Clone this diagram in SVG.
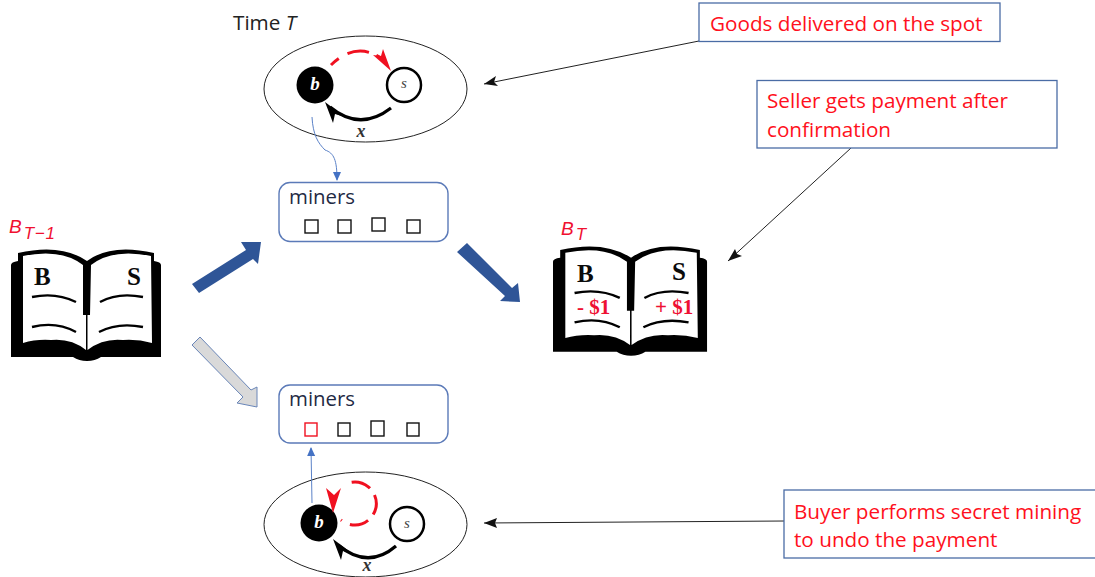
<svg xmlns="http://www.w3.org/2000/svg" width="1095" height="577" viewBox="0 0 1095 577">
<style>
.ui{font-family:"Open Sans","Noto Sans",sans-serif}
.lbl{font-size:20.700px;fill:#ff1020}
.mn{font-size:20.400px;fill:#1f2a44}
.ser{font-family:"Liberation Serif",serif}
.bk{font-size:25px;font-weight:bold;fill:#0b0b0b}
.amt{font-size:21px;font-weight:bold;fill:#ee1133}
.box{fill:#fff;stroke:#4a6ca5;stroke-width:1.300}
.mbox{fill:#fff;stroke:#5b7ab8;stroke-width:1.400}
.el{fill:none;stroke:#222;stroke-width:1}
.sq{fill:#fff;stroke:#111;stroke-width:1.400}
.ln{fill:none;stroke:#222;stroke-width:1}
.bl{fill:none;stroke:#5b82c8;stroke-width:1;marker-end:url(#ab)}
.cb{fill:none;stroke:#000;stroke-width:3.200}
.cr{fill:none;stroke:#f01020;stroke-width:3}
.hd{fill:#000}.hr{fill:#f01020}
.sub{font-family:"Liberation Sans",sans-serif;font-style:italic;fill:#f01030}
</style>
<defs>
<marker id="ab" markerWidth="9" markerHeight="9" refX="8" refY="4" orient="auto" markerUnits="userSpaceOnUse" viewBox="0 0 9 8"><path d="M0,0L9,4L0,8z" fill="#4472c4"/></marker>
<g id="book">
<path fill="#000" d="M0,17Q0,14 7,13L7,5Q50,-5 76,13Q100,-5 143,5L143,13Q150,14 150,17L150,109L90,109Q84,113 76,113Q68,113 62,109L0,109z"/>
<path fill="#fff" d="M12,8Q50,0 72,17L72,67L75,67L75,102Q60,90 40,92Q25,91 12,95z"/>
<path fill="#fff" d="M140,8Q102,0 80,17L79,67L76.500,67L76.500,102Q92,90 112,92Q127,91 141,95z"/>
<g fill="none" stroke="#000" stroke-width="2.400">
<path d="M21,49Q45,44 65,54M89,54Q107,44 132,49M21,79Q45,73 65,84M88,84Q107,74 132,79"/>
</g>
</g>
</defs>
<g id="ellipse-top">
<ellipse class="el" cx="365.500" cy="89" rx="101.500" ry="53"/>
<circle cx="315" cy="85" r="18.500" fill="#000"/>
<circle cx="404" cy="85" r="17" fill="#fff" stroke="#000" stroke-width="2.500"/>
<path class="cr" d="M331,65Q357,40 384,60" stroke-dasharray="10 10 22 8 30"/>
<path class="hr" d="M391,71L373,55L381,56L383,49z"/>
<path class="cb" d="M391,108Q360,132 330,107"/>
<path class="hd" d="M325,102L345,117L335,114L333,123z"/>
<text class="ser" x="315" y="90" font-size="19" font-weight="bold" font-style="italic" fill="#fff" text-anchor="middle">b</text>
<text class="ser" x="404" y="88" font-size="15" font-style="italic" fill="#444" text-anchor="middle">s</text>
<text class="ser" x="361" y="137" font-size="18" font-weight="bold" font-style="italic" fill="#333" text-anchor="middle">x</text>
</g>
<g id="ellipse-bottom">
<ellipse class="el" cx="365.500" cy="524.500" rx="101.500" ry="52.500"/>
<circle cx="319" cy="523" r="18.500" fill="#000"/>
<circle cx="407" cy="524" r="17" fill="#fff" stroke="#000" stroke-width="2.500"/>
<path class="cr" d="M341,520A21.500,21.500 0 1 0 338,490" stroke-dasharray="1 9 19 8 20 8 20 40"/>
<path class="hr" d="M333,513L326,488L334,495L341,488z"/>
<path class="cb" d="M396,546Q368,570 338,545"/>
<path class="hd" d="M333,539L353,554L343,551L341,560z"/>
<text class="ser" x="319" y="528" font-size="19" font-weight="bold" font-style="italic" fill="#fff" text-anchor="middle">b</text>
<text class="ser" x="407" y="528" font-size="15" font-style="italic" fill="#444" text-anchor="middle">s</text>
<text class="ser" x="367" y="571" font-size="18" font-weight="bold" font-style="italic" fill="#333" text-anchor="middle">x</text>
</g>
<g id="connectors">
<path class="ln" d="M699,41L484,84"/>
<path d="M484,84L496,76L494,82L498,86z" fill="#111"/>
<path class="ln" d="M851,148L728,261"/>
<path d="M728,261L735,249L737,254L742,256z" fill="#111"/>
<path class="ln" d="M785,521L484,523"/>
<path d="M484,523L497,518L495,523L497,528z" fill="#111"/>
<path class="bl" d="M312,117C313,135 318,143 325,150C334,153 337,160 337,180"/>
<path class="bl" d="M312,503L311,448"/>
<polygon fill="#2f5597" points="192,284 246,250 241,242 261,242 258,264 253,259 199,293"/>
<polygon fill="#2f5597" points="457,252 467,243 512,288 518,283 520,302 500,301 505,296"/>
<polygon fill="#d9d9d9" stroke="#6a86b8" points="192,345 200,337 251,390 257,387 257,407 237,403 243,397"/>
</g>
<g id="time"><text class="ui" x="233" y="30" font-size="20.700" fill="#222">Time <tspan font-style="italic">T</tspan></text></g>
<g id="book-prev">
<text class="sub" x="9" y="233" font-size="19">B<tspan font-size="17" dx="2" dy="6" letter-spacing="0.700">T−1</tspan></text>
<use href="#book" transform="translate(11,248)"/>
<text class="ser bk" x="34" y="285">B</text>
<text class="ser bk" x="127" y="285">S</text>
</g>
<g id="book-next">
<text class="sub" x="561" y="235" font-size="19">B<tspan font-size="17" dx="2" dy="5">T</tspan></text>
<use href="#book" transform="translate(553,245) scale(1.027,0.98)"/>
<text class="ser bk" x="577" y="282">B</text>
<text class="ser bk" x="672" y="280">S</text>
<text class="ser amt" x="577" y="314">- $1</text>
<text class="ser amt" x="655" y="314">+ $1</text>
</g>
<g id="miners-top">
<rect class="mbox" x="279" y="182.500" width="169" height="59" rx="11"/>
<text class="ui mn" x="289" y="204">miners</text>
<rect class="sq" x="305" y="220" width="13" height="13"/>
<rect class="sq" x="338" y="220" width="13" height="13"/>
<rect class="sq" x="372" y="218" width="13" height="13"/>
<rect class="sq" x="407" y="220" width="13" height="13"/>
</g>
<g id="miners-bottom">
<rect class="mbox" x="279" y="385" width="169" height="58" rx="11"/>
<text class="ui mn" x="289" y="406">miners</text>
<rect class="sq" style="stroke:#f01020" x="305" y="423" width="12" height="13"/>
<rect class="sq" x="338" y="423" width="12" height="13"/>
<rect class="sq" x="371" y="421" width="13" height="15"/>
<rect class="sq" x="407" y="423" width="12" height="13"/>
</g>
<g id="note-goods">
<rect class="box" x="699" y="3" width="301" height="38.500"/>
<text class="ui lbl" x="710" y="31">Goods delivered on the spot</text>
</g>
<g id="note-seller">
<rect class="box" x="757" y="80.500" width="300" height="67.500"/>
<text class="ui lbl" x="767" y="108">Seller gets payment after</text>
<text class="ui lbl" x="767" y="137">confirmation</text>
</g>
<g id="note-buyer">
<rect class="box" x="784" y="490" width="320" height="68"/>
<text class="ui lbl" x="794" y="519">Buyer performs secret mining</text>
<text class="ui lbl" x="794" y="547">to undo the payment</text>
</g>
</svg>
